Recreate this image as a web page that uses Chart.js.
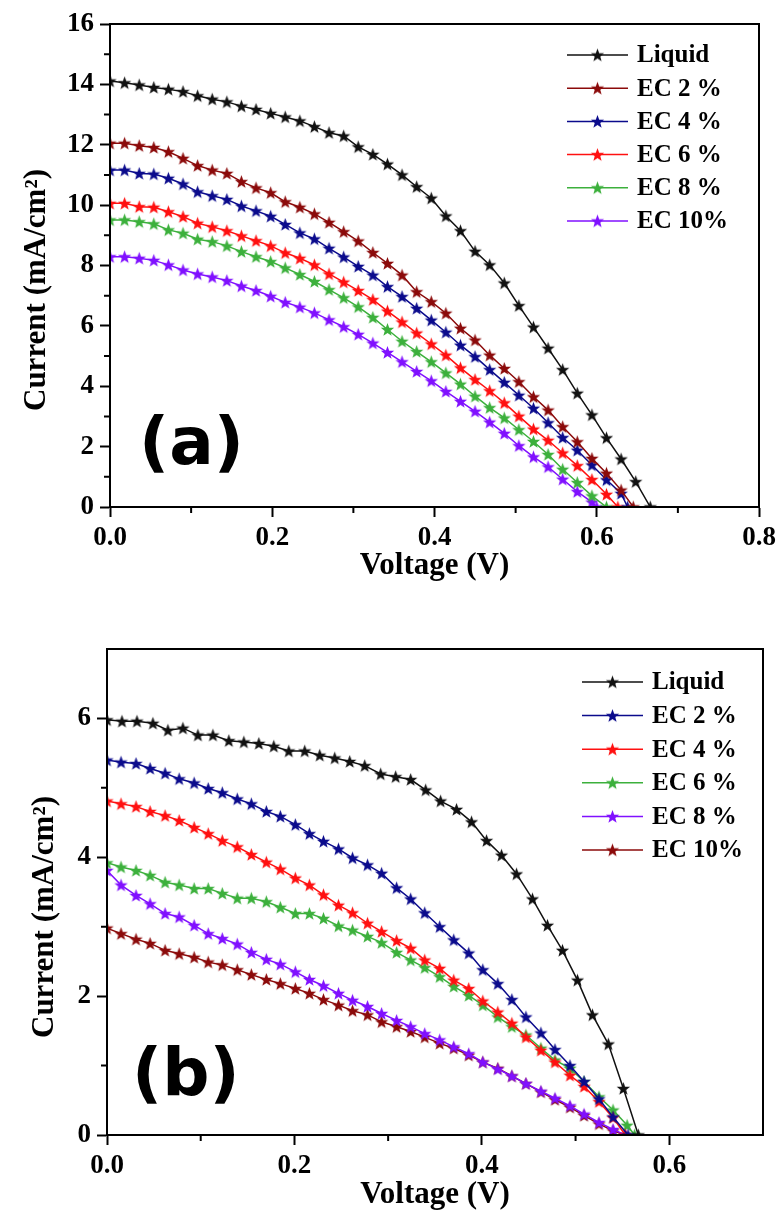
<!DOCTYPE html>
<html>
<head>
<meta charset="utf-8">
<script src="https://cdn.jsdelivr.net/npm/chart.js@4/dist/chart.umd.min.js"></script>
<style>
  body { margin: 0; background: #fff; }
  .panel { position: absolute; left: 0; }
</style>
</head>
<body>
<div class="panel" style="top:0"><canvas id="chartA" width="782" height="600"></canvas></div>
<div class="panel" style="top:600px"><canvas id="chartB" width="782" height="614"></canvas></div>
<script>
// ---- panel (a) ----
var voltsA = [0, 0.018, 0.036, 0.054, 0.072, 0.09, 0.108, 0.126, 0.144, 0.162, 0.18, 0.198, 0.216, 0.234, 0.252, 0.27, 0.288, 0.306, 0.324, 0.342, 0.36, 0.378, 0.396, 0.414, 0.432, 0.45, 0.468, 0.486, 0.504, 0.522, 0.54, 0.558, 0.576, 0.594, 0.612, 0.63, 0.648];
var labelsA = ['Liquid', 'EC 2 %', 'EC 4 %', 'EC 6 %', 'EC 8 %', 'EC 10%'];
var liquidA = [14.11, 14.05, 13.98, 13.90, 13.84, 13.76, 13.62, 13.51, 13.42, 13.28, 13.17, 13.04, 12.92, 12.79, 12.60, 12.40, 12.29, 11.93, 11.68, 11.36, 11.00, 10.61, 10.23, 9.64, 9.15, 8.47, 8.02, 7.42, 6.67, 5.96, 5.26, 4.55, 3.77, 3.05, 2.29, 1.59, 0.84];
var ec2A = [12.05, 12.05, 11.97, 11.91, 11.77, 11.55, 11.31, 11.16, 11.05, 10.78, 10.57, 10.41, 10.11, 9.93, 9.71, 9.43, 9.12, 8.81, 8.43, 8.07, 7.68, 7.13, 6.80, 6.42, 5.92, 5.53, 5.03, 4.59, 4.15, 3.65, 3.21, 2.66, 2.16, 1.61, 1.12, 0.56];
var ec4A = [11.16, 11.16, 11.05, 11.03, 10.89, 10.70, 10.44, 10.31, 10.19, 9.97, 9.81, 9.63, 9.36, 9.08, 8.88, 8.57, 8.28, 7.97, 7.68, 7.30, 6.97, 6.58, 6.19, 5.79, 5.36, 4.98, 4.55, 4.13, 3.70, 3.27, 2.79, 2.30, 1.88, 1.39, 0.90, 0.45];
var ec6A = [10.06, 10.06, 9.95, 9.93, 9.78, 9.62, 9.40, 9.28, 9.15, 8.98, 8.82, 8.65, 8.42, 8.24, 8.02, 7.72, 7.45, 7.17, 6.87, 6.49, 6.13, 5.76, 5.40, 5.03, 4.61, 4.22, 3.85, 3.45, 3.01, 2.58, 2.21, 1.79, 1.37, 0.91, 0.42];
var ec8A = [9.51, 9.51, 9.45, 9.38, 9.18, 9.07, 8.87, 8.79, 8.65, 8.46, 8.29, 8.13, 7.92, 7.70, 7.47, 7.20, 6.93, 6.63, 6.28, 5.88, 5.49, 5.15, 4.81, 4.44, 4.07, 3.67, 3.29, 2.95, 2.56, 2.17, 1.74, 1.25, 0.81, 0.37];
var ec10A = [8.29, 8.29, 8.24, 8.17, 8.02, 7.85, 7.72, 7.62, 7.50, 7.32, 7.17, 6.98, 6.78, 6.62, 6.43, 6.20, 5.97, 5.72, 5.43, 5.12, 4.81, 4.49, 4.18, 3.83, 3.50, 3.17, 2.81, 2.44, 2.03, 1.66, 1.33, 0.92, 0.51, 0.16];
var vocA = [0.666, 0.645, 0.638, 0.626, 0.612, 0.600];
var colorsA = ['#111111', '#8b0a0a', '#0b0b8c', '#ff1010', '#3cb03c', '#8010ff'];
var xTicksA = [0, 0.2, 0.4, 0.6, 0.8];
var yTicksA = [0, 2, 4, 6, 8, 10, 12, 14, 16];

// ---- panel (b) ----
var voltsLiquidB = [0, 0.016, 0.032, 0.049, 0.065, 0.081, 0.097, 0.113, 0.130, 0.146, 0.162, 0.178, 0.194, 0.211, 0.227, 0.243, 0.259, 0.275, 0.292, 0.308, 0.324, 0.340, 0.356, 0.373, 0.389, 0.405, 0.421, 0.437, 0.454, 0.470, 0.486, 0.502, 0.518, 0.535, 0.551];
var voltsEcB = [0, 0.015, 0.031, 0.046, 0.062, 0.077, 0.093, 0.108, 0.123, 0.139, 0.154, 0.170, 0.185, 0.201, 0.216, 0.231, 0.247, 0.262, 0.278, 0.293, 0.309, 0.324, 0.339, 0.355, 0.370, 0.386, 0.401, 0.417, 0.432, 0.447, 0.463, 0.478, 0.494, 0.509, 0.525, 0.540, 0.555];
var labelsB = ['Liquid', 'EC 2 %', 'EC 4 %', 'EC 6 %', 'EC 8 %', 'EC 10%'];
var liquidB = [5.98, 5.96, 5.96, 5.93, 5.83, 5.86, 5.76, 5.76, 5.68, 5.66, 5.64, 5.60, 5.53, 5.53, 5.47, 5.43, 5.38, 5.32, 5.20, 5.16, 5.12, 4.97, 4.81, 4.69, 4.51, 4.24, 4.03, 3.76, 3.40, 3.02, 2.66, 2.23, 1.73, 1.31, 0.67];
var ec2B = [5.40, 5.37, 5.35, 5.28, 5.21, 5.13, 5.07, 4.99, 4.93, 4.84, 4.77, 4.66, 4.59, 4.47, 4.34, 4.23, 4.12, 3.99, 3.89, 3.77, 3.56, 3.40, 3.20, 3.00, 2.81, 2.62, 2.38, 2.18, 1.95, 1.70, 1.47, 1.23, 1.00, 0.77, 0.52, 0.26];
var ec4B = [4.81, 4.77, 4.73, 4.66, 4.60, 4.53, 4.43, 4.34, 4.24, 4.15, 4.04, 3.93, 3.83, 3.70, 3.60, 3.46, 3.31, 3.20, 3.05, 2.93, 2.80, 2.69, 2.52, 2.40, 2.23, 2.11, 1.93, 1.77, 1.61, 1.41, 1.22, 1.05, 0.86, 0.70, 0.48, 0.25];
var ec6B = [3.92, 3.86, 3.81, 3.74, 3.64, 3.60, 3.55, 3.55, 3.48, 3.41, 3.41, 3.36, 3.28, 3.19, 3.19, 3.12, 3.01, 2.95, 2.86, 2.77, 2.63, 2.52, 2.41, 2.28, 2.14, 2.01, 1.87, 1.70, 1.56, 1.44, 1.25, 1.08, 0.96, 0.77, 0.55, 0.36, 0.14];
var ec8B = [3.81, 3.60, 3.45, 3.33, 3.19, 3.14, 3.02, 2.90, 2.83, 2.75, 2.63, 2.53, 2.46, 2.35, 2.24, 2.15, 2.04, 1.94, 1.85, 1.75, 1.65, 1.56, 1.46, 1.37, 1.27, 1.17, 1.05, 0.95, 0.85, 0.74, 0.63, 0.53, 0.42, 0.30, 0.18, 0.08];
var ec10B = [2.98, 2.90, 2.82, 2.76, 2.66, 2.61, 2.56, 2.49, 2.45, 2.38, 2.31, 2.24, 2.18, 2.11, 2.04, 1.95, 1.87, 1.79, 1.73, 1.63, 1.56, 1.49, 1.41, 1.32, 1.25, 1.15, 1.05, 0.96, 0.85, 0.74, 0.62, 0.51, 0.40, 0.28, 0.16, 0.06];
var vocB = [0.567, 0.556, 0.553, 0.563, 0.553, 0.553];
var colorsB = ['#111111', '#0b0b8c', '#ff1010', '#3cb03c', '#8010ff', '#8b0a0a'];
var xTicksB = [0, 0.2, 0.4, 0.6];
var yTicksB = [0, 2, 4, 6];

var SERIF = '"Liberation Serif", "Times New Roman", serif';

// filled five-point star used as the marker
function starImage(color) {
  var c = document.createElement('canvas');
  c.width = 15; c.height = 15;
  var g = c.getContext('2d');
  g.fillStyle = color;
  g.beginPath();
  for (var k = 0; k < 10; k++) {
    var r = k % 2 === 0 ? 7 : 2.9;
    var a = -Math.PI / 2 + k * Math.PI / 5;
    var px = 7.5 + r * Math.cos(a), py = 8 + r * Math.sin(a);
    if (k === 0) g.moveTo(px, py); else g.lineTo(px, py);
  }
  g.closePath();
  g.fill();
  return c;
}

function toPoints(volts, current, voc) {
  var pts = current.map(function(c, i) { return { x: volts[i], y: c }; });
  pts.push({ x: voc, y: 0 });
  return pts;
}

function makeDatasets(series, labels, colors, vocs) {
  return series.map(function(s, i) {
    return {
      label: labels[i],
      data: toPoints(s.volts, s.current, vocs[i]),
      borderColor: colors[i],
      backgroundColor: colors[i],
      borderWidth: 1.5,
      pointStyle: starImage(colors[i]),
      pointRadius: 6,
      tension: 0
    };
  });
}

// frame, minor ticks, titles, legend and the panel letter
var decor = {
  id: 'decor',
  afterDraw: function(chart, args, o) {
    var ctx = chart.ctx, area = chart.chartArea;
    var xs = chart.scales.x, ys = chart.scales.y;
    ctx.save();
    ctx.strokeStyle = '#000';
    ctx.lineWidth = 2;
    ctx.strokeRect(area.left, area.top, area.right - area.left, area.bottom - area.top);

    // minor ticks halfway between the labelled ones
    ctx.lineWidth = 2;
    ctx.beginPath();
    for (var i = 0; i < o.xMinor.length; i++) {
      var px = xs.getPixelForValue(o.xMinor[i]);
      ctx.moveTo(px, area.bottom);
      ctx.lineTo(px, area.bottom + 6);
    }
    for (var j = 0; j < o.yMinor.length; j++) {
      var py = ys.getPixelForValue(o.yMinor[j]);
      ctx.moveTo(area.left, py);
      ctx.lineTo(area.left - 6, py);
    }
    ctx.stroke();

    ctx.fillStyle = '#000';
    ctx.font = 'bold 31px ' + SERIF;
    ctx.textAlign = 'center';
    ctx.textBaseline = 'alphabetic';
    ctx.fillText('Voltage (V)', (area.left + area.right) / 2, o.xTitleY);
    ctx.save();
    ctx.translate(o.yTitleX, o.yTitleY);
    ctx.rotate(-Math.PI / 2);
    ctx.fillText('Current (mA/cm\u00B2)', 0, 0);
    ctx.restore();

    // legend
    ctx.font = 'bold 25px ' + SERIF;
    ctx.textAlign = 'left';
    ctx.textBaseline = 'middle';
    chart.data.datasets.forEach(function(ds, k) {
      var y = o.legendY + k * o.legendStep;
      ctx.strokeStyle = ds.borderColor;
      ctx.lineWidth = 1.5;
      ctx.beginPath();
      ctx.moveTo(o.legendX, y);
      ctx.lineTo(o.legendX + 61, y);
      ctx.stroke();
      var img = ds.pointStyle;
      ctx.drawImage(img, o.legendX + 30.5 - img.width / 2, y - img.height / 2);
      ctx.fillStyle = '#000';
      ctx.fillText(ds.label, o.legendX + 70, y + 1);
    });

    ctx.font = 'bold 66px "DejaVu Sans", sans-serif';
    ctx.textBaseline = 'alphabetic';
    ctx.fillText(o.panel, o.panelX, o.panelY);
    ctx.restore();
  }
};

function makeChart(id, datasets, cfg) {
  return new Chart(document.getElementById(id), {
    type: 'line',
    data: { datasets: datasets },
    plugins: [decor],
    options: {
      responsive: false,
      animation: false,
      devicePixelRatio: 1,
      events: [],
      layout: { padding: { left: 0, right: cfg.padRight, top: cfg.padTop, bottom: 0 } },
      plugins: {
        legend: { display: false },
        tooltip: { enabled: false },
        decor: cfg.decor
      },
      scales: {
        x: {
          type: 'linear',
          min: cfg.xTicks[0],
          max: cfg.xMax,
          afterFit: function(s) { s.height = cfg.xHeight; },
          afterBuildTicks: function(s) { s.ticks = cfg.xTicks.map(function(v) { return { value: v }; }); },
          border: { color: '#000', width: 2 },
          grid: { drawOnChartArea: false, tickLength: 10, tickColor: '#000', tickWidth: 2 },
          ticks: {
            color: '#000',
            padding: 5,
            maxRotation: 0,
            autoSkip: false,
            font: { family: SERIF, size: 27, weight: 'bold' },
            callback: function(v) { return Number(v).toFixed(1); }
          }
        },
        y: {
          min: cfg.yTicks[0],
          max: cfg.yMax,
          afterFit: function(s) { s.width = cfg.yWidth; },
          afterBuildTicks: function(s) { s.ticks = cfg.yTicks.map(function(v) { return { value: v }; }); },
          border: { color: '#000', width: 2 },
          grid: { drawOnChartArea: false, tickLength: 10, tickColor: '#000', tickWidth: 2 },
          ticks: {
            color: '#000',
            padding: 6,
            autoSkip: false,
            font: { family: SERIF, size: 27, weight: 'bold' },
            callback: function(v) { return String(v); }
          }
        }
      }
    }
  });
}

var seriesA = [
  { volts: voltsA, current: liquidA },
  { volts: voltsA, current: ec2A },
  { volts: voltsA, current: ec4A },
  { volts: voltsA, current: ec6A },
  { volts: voltsA, current: ec8A },
  { volts: voltsA, current: ec10A }
];
var seriesB = [
  { volts: voltsLiquidB, current: liquidB },
  { volts: voltsEcB, current: ec2B },
  { volts: voltsEcB, current: ec4B },
  { volts: voltsEcB, current: ec6B },
  { volts: voltsEcB, current: ec8B },
  { volts: voltsEcB, current: ec10B }
];

makeChart('chartA', makeDatasets(seriesA, labelsA, colorsA, vocA), {
  xTicks: xTicksA, xMax: 0.8, yTicks: yTicksA, yMax: 16,
  padRight: 23, padTop: 24, xHeight: 93, yWidth: 110,
  decor: {
    xMinor: [0.1, 0.3, 0.5, 0.7], yMinor: [1, 3, 5, 7, 9, 11, 13, 15],
    xTitleY: 574, yTitleX: 45, yTitleY: 290,
    legendX: 567, legendY: 55, legendStep: 33.2,
    panel: '(a)', panelX: 139, panelY: 464
  }
});

makeChart('chartB', makeDatasets(seriesB, labelsB, colorsB, vocB), {
  xTicks: xTicksB, xMax: 0.7, yTicks: yTicksB, yMax: 7,
  padRight: 19, padTop: 49, xHeight: 79, yWidth: 107,
  decor: {
    xMinor: [0.1, 0.3, 0.5], yMinor: [1, 3, 5],
    xTitleY: 603, yTitleX: 53, yTitleY: 317,
    legendX: 582, legendY: 82, legendStep: 33.6,
    panel: '(b)', panelX: 132, panelY: 495
  }
});
</script>
</body>
</html>
